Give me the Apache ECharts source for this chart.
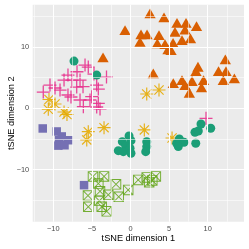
<!DOCTYPE html>
<html>
<head>
<meta charset="utf-8">
<script src="https://cdn.jsdelivr.net/npm/echarts@6/dist/echarts.min.js"></script>
<style>html,body{margin:0;padding:0;background:#fff;}#c{width:249px;height:249px;}</style>
</head>
<body>
<div id="c"></div>
<script>
// ---- axis ticks / grid breaks ----
const xTicks = [-10, -5, 0, 5, 10];
const xMinor = [-12.5, -7.5, -2.5, 2.5, 7.5, 12.5];
const yTicks = [-10, 0, 10];
const yMinor = [-15, -5, 5, 15];
const xTitle = 'tSNE dimension 1';
const yTitle = 'tSNE dimension 2';

// ---- data: [tSNE1, tSNE2] per group ----
const orangeTriangles = [
  [2.53, 15.47], [4.34, 14.82], [-0.71, 12.75], [1.36, 12.05], [2.14, 12.05],
  [1.23, 10.85], [3.69, 11.94], [3.47, 10.59], [4.47, 10.47], [4.86, 9.61],
  [6.02, 13.94], [7.19, 13.94], [8.55, 13.40], [5.76, 12.48], [7.06, 12.83],
  [6.67, 11.12], [7.77, 11.40], [5.51, 10.68], [5.25, 9.50], [-3.56, 8.31],
  [2.95, 5.70], [5.54, 4.12], [6.67, 4.61], [7.06, 3.79], [7.97, 4.45],
  [8.48, 6.07], [8.74, 6.78], [9.46, 4.61], [9.20, 3.42], [7.62, 2.54],
  [12.28, 7.98], [11.40, 6.07], [12.37, 6.07], [12.02, 4.61], [13.45, 4.89]
];
const greenBoxX = [
  [-4.86, -11.11], [-3.43, -11.11], [-4.17, -12.28], [-1.88, -12.41], [-5.51, -14.23],
  [-3.95, -13.55], [-2.88, -14.12], [-1.53, -14.45], [-5.47, -16.07], [-4.04, -15.10],
  [-3.73, -16.07], [-3.08, -16.81], [-0.30, -13.31], [1.00, -11.68], [2.10, -11.27],
  [2.42, -12.05], [3.28, -11.11], [2.82, -11.76]
];
const purpleSquares = [
  [-11.37, -3.29], [-9.56, -3.78], [-8.91, -4.59], [-9.26, -5.16], [-8.06, -5.21],
  [-9.35, -6.09], [-8.55, -6.03], [-6.02, -12.54]
];
const yellowStars = [
  [-10.56, 1.43], [-9.78, 0.70], [-10.65, -0.16], [-8.61, -0.60], [-8.23, -1.01],
  [-5.47, -3.81], [-5.67, -5.16], [-3.43, -3.16], [2.10, 2.33], [3.69, 2.98],
  [1.79, -3.53], [5.38, -4.84]
];
const pinkPlus = [
  [-5.89, 7.05], [-5.47, 6.73], [-6.93, 5.96], [-8.10, 5.42], [-7.58, 4.61],
  [-6.54, 4.61], [-6.15, 3.52], [-3.11, 5.10], [-4.38, 3.79], [-4.17, 3.14],
  [-10.43, 3.79], [-11.30, 2.65], [-9.78, 3.31], [-9.13, 2.98], [-8.10, 2.17],
  [-7.71, 1.84], [-6.97, 3.47], [-5.03, 1.89], [-6.54, 1.35], [-5.25, 1.35],
  [-6.11, 0.26], [-4.17, 0.81], [-4.38, 0.21], [-3.95, -0.11], [-8.61, 4.61],
  [-4.73, 5.59], [9.78, -1.63]
];
const tealCircles = [
  [-7.32, 7.70], [-4.38, 5.42], [-0.19, -4.51], [0.06, -5.28], [-1.06, -5.44],
  [-0.62, -6.14], [-1.58, -6.91], [-0.93, -7.07], [-0.06, -6.51], [0.06, -7.33],
  [2.10, -5.44], [2.10, -6.25], [1.97, -7.07], [5.98, -5.70], [6.32, -5.00],
  [6.93, -5.54], [6.19, -6.25], [8.45, -5.70], [8.35, -3.91], [8.78, -3.70],
  [9.13, -2.56], [10.39, -3.26]
];

// ---- glyph paths (ggplot shapes 3, 7, 8) ----
const PLUS = 'path://M0,45L100,45L100,55L0,55ZM45,0L55,0L55,100L45,100Z';
const STAR = 'path://M0,45.5L100,45.5L100,54.5L0,54.5ZM45.5,0L54.5,0L54.5,100L45.5,100Z' +
  'M17.8,11.4L88.6,82.2L82.2,88.6L11.4,17.8ZM88.6,17.8L17.8,88.6L11.4,82.2L82.2,11.4Z';
const BOXX = 'path://M0,0L100,0L100,100L0,100ZM9,9L9,91L91,91L91,9Z' +
  'M6,0L100,94L94,100L0,6ZM100,6L6,100L0,94L94,0Z';

const FONT = '"Liberation Sans", Arial, Helvetica, sans-serif';
const fmt = v => String(v).replace('-', '\u2212');

function pts(name, data, symbol, size, color, opacity) {
  return {
    name, type: 'scatter', data, symbol, symbolSize: size, z: 3,
    itemStyle: { color, opacity },
    emphasis: { disabled: true }, silent: true
  };
}

const gridLines = {
  type: 'scatter', data: [[0, 0]], symbolSize: 0, itemStyle: { opacity: 0 }, z: 1, silent: true,
  markLine: {
    silent: true, symbol: ['none', 'none'], label: { show: false }, animation: false,
    emphasis: { disabled: true },
    lineStyle: { color: '#FFFFFF', type: 'solid', width: 1.1 },
    data: [
      ...xMinor.map(v => ({ xAxis: v, lineStyle: { width: 0.55, color: '#FFFFFF', type: 'solid' } })),
      ...yMinor.map(v => ({ yAxis: v, lineStyle: { width: 0.55, color: '#FFFFFF', type: 'solid' } })),
      ...xTicks.map(v => ({ xAxis: v, lineStyle: { width: 1.1, color: '#FFFFFF', type: 'solid' } })),
      ...yTicks.map(v => ({ yAxis: v, lineStyle: { width: 1.1, color: '#FFFFFF', type: 'solid' } }))
    ]
  }
};

const axisCommon = {
  type: 'value',
  axisLine: { show: false },
  splitLine: { show: false },
  nameLocation: 'middle',
  nameMoveOverlap: false,
  nameTextStyle: { color: '#000000', fontSize: 9.2, fontFamily: FONT }
};

const option = {
  animation: false,
  backgroundColor: '#FFFFFF',
  grid: {
    left: 32.7, right: 5, top: 4.7, bottom: 27.3,
    show: true, backgroundColor: '#EBEBEB', borderWidth: 0,
    containLabel: false, outerBoundsMode: 'none'
  },
  xAxis: Object.assign({}, axisCommon, {
    min: -12.67, max: 14.7,
    name: xTitle, nameGap: 12.5,
    axisTick: { show: true, length: 2.5, customValues: xTicks, lineStyle: { color: '#333333', width: 1 } },
    axisLabel: { customValues: xTicks, formatter: fmt, color: '#4D4D4D', fontSize: 7.4, margin: 3.5, fontFamily: FONT }
  }),
  yAxis: Object.assign({}, axisCommon, {
    min: -18.5, max: 16.9,
    name: yTitle, nameGap: 16.5,
    axisTick: { show: true, length: 2.5, customValues: yTicks, lineStyle: { color: '#333333', width: 1 } },
    axisLabel: { customValues: yTicks, formatter: fmt, color: '#4D4D4D', fontSize: 7.4, margin: 3.5, fontFamily: FONT }
  }),
  series: [
    gridLines,
    pts('orange', orangeTriangles, 'triangle', [11.3, 9.8], '#D95F02', 1),
    pts('green', greenBoxX, BOXX, 10.5, '#66A61E', 0.9),
    pts('purple', purpleSquares, 'rect', 8.5, '#7570B3', 1),
    pts('yellow', yellowStars, STAR, 13, '#E6AB02', 0.9),
    pts('pink', pinkPlus, PLUS, 13, '#E7298A', 0.85),
    pts('teal', tealCircles, 'circle', 9, '#1B9E77', 1)
  ]
};

const chart = echarts.init(document.getElementById('c'), null, { renderer: 'canvas' });
chart.setOption(option);
</script>
</body>
</html>
